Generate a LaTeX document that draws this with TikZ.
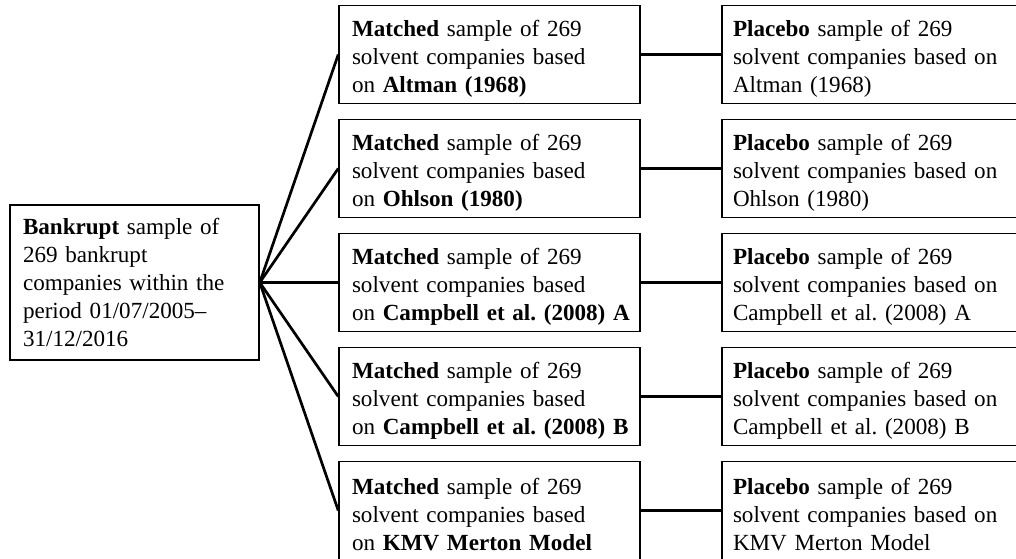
\documentclass[tikz,border=0pt]{standalone}
\usepackage{fontspec}
\setmainfont{Liberation Serif}
\usetikzlibrary{positioning,trees}
\frenchspacing

\begin{document}
\begin{tikzpicture}[
    every node/.style={rectangle, draw, line width=1.5pt, align=left, inner ysep=0pt,
        font=\fontsize{23.1pt}{28.2pt}\selectfont},
    bankruptbox/.style={text width=223pt, inner xsep=13pt, minimum height=155pt},
    matchedbox/.style={text width=275pt, inner xsep=13pt, minimum height=98pt,
        execute at begin node={\rule{0pt}{24.8pt}}},
    placebobox/.style={text width=288pt, inner xsep=11pt, minimum height=98pt,
        execute at begin node={\rule{0pt}{24.8pt}}},
    grow'=right,
    level 1/.style={sibling distance=114pt, level distance=355pt},
    level 2/.style={level distance=387.5pt},
    edge from parent/.style={draw, line width=2.7pt},
    edge from parent path={(\tikzparentnode.east) -- (\tikzchildnode.west)}
]
\useasboundingbox (0,0) rectangle (1016pt,-558pt);
\node[bankruptbox] (bankrupt) at (134.5pt,-282.5pt)
    {\textbf{Bankrupt} sample of\\269 bankrupt\\companies within the\\period 01/07/2005--\\31/12/2016}
    child {node[matchedbox] (altman) {\textbf{Matched} sample of 269\\solvent companies based\\on \textbf{Altman (1968)}}
        child {node[placebobox] (altmanP) {\textbf{Placebo} sample of 269\\solvent companies based on\\Altman (1968)}}
    }
    child {node[matchedbox] (ohlson) {\textbf{Matched} sample of 269\\solvent companies based\\on \textbf{Ohlson (1980)}}
        child {node[placebobox] (ohlsonP) {\textbf{Placebo} sample of 269\\solvent companies based on\\Ohlson (1980)}}
    }
    child {node[matchedbox] (campA) {\textbf{Matched} sample of 269\\solvent companies based\\\mbox{on \textbf{Campbell et al. (2008) A}}}
        child {node[placebobox] (campAP) {\textbf{Placebo} sample of 269\\solvent companies based on\\Campbell et al. (2008) A}}
    }
    child {node[matchedbox] (campB) {\textbf{Matched} sample of 269\\solvent companies based\\\mbox{on \textbf{Campbell et al. (2008) B}}}
        child {node[placebobox] (campBP) {\textbf{Placebo} sample of 269\\solvent companies based on\\Campbell et al. (2008) B}}
    }
    child {node[matchedbox] (kmv) {\textbf{Matched} sample of 269\\solvent companies based\\on \textbf{KMV Merton Model}}
        child {node[placebobox] (kmvP) {\textbf{Placebo} sample of 269\\solvent companies based on\\KMV Merton Model}}
    };
\end{tikzpicture}
\end{document}
